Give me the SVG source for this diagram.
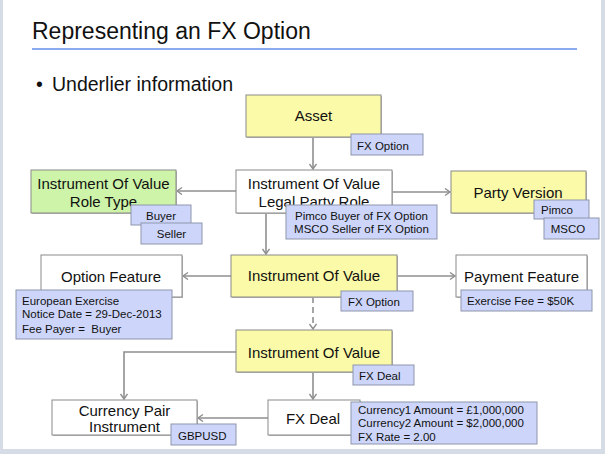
<svg xmlns="http://www.w3.org/2000/svg" width="605" height="454" viewBox="0 0 605 454">
<defs>
<style>
text{font-family:"Liberation Sans",Arial,sans-serif;fill:#111}
.nt{font-size:15px;text-anchor:middle}
.tt{font-size:11.5px}
.box{stroke:#8a8a8a;stroke-width:1}
.sh{fill:#b8b8b8}
.y{fill:#fbfaa8}
.w{fill:#ffffff}
.g{fill:#cdf4a8}
.tag{fill:#cdd6fa;stroke:#8e95aa;stroke-width:1}
.c{fill:none;stroke:#8f8f8f;stroke-width:1.6}
</style>
<marker id="ah" markerWidth="10" markerHeight="10" refX="6" refY="4" orient="auto" markerUnits="userSpaceOnUse">
<path d="M1,0.5 L6,4 L1,7.5" fill="none" stroke="#8f8f8f" stroke-width="1.4"/>
</marker>
</defs>
<rect x="0" y="0" width="605" height="454" fill="#d6dce5"/>
<rect x="3" y="0" width="598" height="449" fill="#ffffff"/>
<g id="title">
<text x="32" y="39" style="font-size:23px">Representing an FX Option</text>
<rect x="32" y="48" width="545" height="2" fill="#8aabf0"/>
<text x="36" y="91" style="font-size:19.5px">•</text>
<text x="52" y="91" style="font-size:19.5px">Underlier information</text>
</g>
<g id="connectors">
<path class="c" d="M313,137 V169" marker-end="url(#ah)"/>
<path class="c" d="M236,191 H177" marker-end="url(#ah)"/>
<path class="c" d="M392,192 H450" marker-end="url(#ah)"/>
<path class="c" d="M266,213 V254" marker-end="url(#ah)"/>
<path class="c" d="M231,276 H183" marker-end="url(#ah)"/>
<path class="c" d="M397,276 H455" marker-end="url(#ah)"/>
<path class="c" d="M313,297 V329" stroke-dasharray="6,4" marker-end="url(#ah)"/>
<path class="c" d="M236,352 H124 V399" marker-end="url(#ah)"/>
<path class="c" d="M313,372 V399" marker-end="url(#ah)"/>
<path class="c" d="M268,418 H198" marker-end="url(#ah)"/>
</g>
<g id="asset">
<rect class="sh" x="247" y="96" width="135" height="42"/>
<rect class="box y" x="246" y="95" width="135" height="42"/>
<text class="nt" x="313.5" y="121">Asset</text>
<rect class="tag" x="351" y="134" width="72" height="21"/>
<text class="tt" x="357" y="150">FX Option</text>
</g>
<g id="iov-legal-party-role">
<rect class="sh" x="237" y="171" width="156" height="43"/>
<rect class="box w" x="236" y="170" width="156" height="43"/>
<text class="nt" x="314" y="189">Instrument Of Value</text>
<text class="nt" x="314" y="207">Legal Party Role</text>
<rect class="tag" x="286" y="205" width="151" height="34"/>
<text class="tt" x="361.5" y="220" text-anchor="middle">Pimco Buyer of FX Option</text>
<text class="tt" x="361.5" y="233" text-anchor="middle">MSCO Seller of FX Option</text>
</g>
<g id="iov-role-type">
<rect class="sh" x="32" y="171" width="145" height="43"/>
<rect class="box g" x="31" y="170" width="145" height="43"/>
<text class="nt" x="103.5" y="189">Instrument Of Value</text>
<text class="nt" x="103.5" y="207">Role Type</text>
<rect class="tag" x="131" y="205" width="60" height="20"/>
<text class="tt" x="161" y="220" text-anchor="middle">Buyer</text>
<rect class="tag" x="141" y="223" width="61" height="21"/>
<text class="tt" x="171.5" y="238" text-anchor="middle">Seller</text>
</g>
<g id="party-version">
<rect class="sh" x="452" y="172" width="135" height="42"/>
<rect class="box y" x="451" y="171" width="135" height="42"/>
<text class="nt" x="518" y="198">Party Version</text>
<rect class="tag" x="534" y="200" width="55" height="19"/>
<text class="tt" x="557" y="214" text-anchor="middle">Pimco</text>
<rect class="tag" x="544" y="218" width="55" height="21"/>
<text class="tt" x="568" y="233" text-anchor="middle">MSCO</text>
</g>
<g id="option-feature">
<rect class="sh" x="42" y="256" width="141" height="42"/>
<rect class="box w" x="41" y="255" width="141" height="42"/>
<text class="nt" x="111" y="282">Option Feature</text>
<rect class="tag" x="16" y="290" width="156" height="49"/>
<text class="tt" x="22" y="305">European Exercise</text>
<text class="tt" x="22" y="318">Notice Date = 29-Dec-2013</text>
<text class="tt" x="22" y="333" xml:space="preserve">Fee Payer =  Buyer</text>
</g>
<g id="iov-option">
<rect class="sh" x="232" y="256" width="166" height="42"/>
<rect class="box y" x="231" y="255" width="166" height="42"/>
<text class="nt" x="314" y="281">Instrument Of Value</text>
<rect class="tag" x="341" y="291" width="72" height="20"/>
<text class="tt" x="348" y="306">FX Option</text>
</g>
<g id="payment-feature">
<rect class="sh" x="457" y="256" width="131" height="42"/>
<rect class="box w" x="456" y="255" width="131" height="42"/>
<text class="nt" x="521.5" y="282">Payment Feature</text>
<rect class="tag" x="461" y="290" width="131" height="21"/>
<text class="tt" x="467" y="305">Exercise Fee = $50K</text>
</g>
<g id="iov-deal">
<rect class="sh" x="237" y="331" width="156" height="42"/>
<rect class="box y" x="236" y="330" width="156" height="42"/>
<text class="nt" x="314" y="358">Instrument Of Value</text>
<rect class="tag" x="353" y="365" width="61" height="20"/>
<text class="tt" x="359" y="380">FX Deal</text>
</g>
<g id="currency-pair">
<rect class="sh" x="53" y="401" width="145" height="35"/>
<rect class="box w" x="52" y="400" width="145" height="35"/>
<text class="nt" x="124.5" y="416">Currency Pair</text>
<text class="nt" x="124.5" y="432">Instrument</text>
<rect class="tag" x="171" y="424" width="65" height="21"/>
<text class="tt" x="178" y="440">GBPUSD</text>
</g>
<g id="fx-deal">
<rect class="sh" x="269" y="401" width="92" height="35"/>
<rect class="box w" x="268" y="400" width="92" height="35"/>
<text class="nt" x="313" y="424">FX Deal</text>
<rect class="tag" x="351" y="402" width="186" height="42"/>
<text class="tt" x="358" y="414">Currency1 Amount = £1,000,000</text>
<text class="tt" x="358" y="427">Currency2 Amount = $2,000,000</text>
<text class="tt" x="358" y="441">FX Rate = 2.00</text>
</g>
</svg>
